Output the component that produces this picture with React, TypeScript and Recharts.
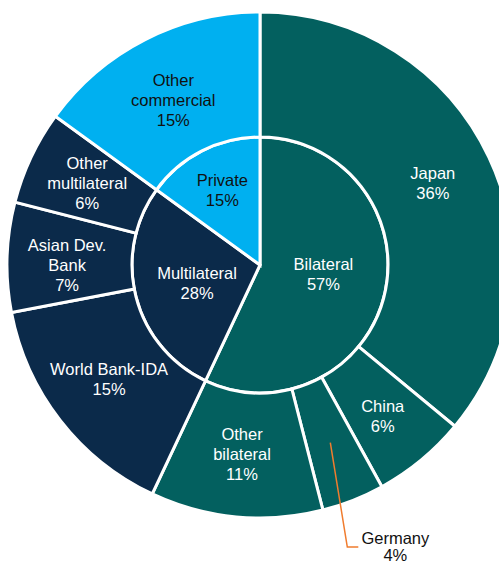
import { PieChart, Pie, Cell } from "recharts";

const groupNames = ["Bilateral", "Multilateral", "Private"];
const groupValues = [57, 28, 15];

const creditorNames = [
  "Japan",
  "China",
  "Germany",
  "Other bilateral",
  "World Bank-IDA",
  "Asian Dev. Bank",
  "Other multilateral",
  "Other commercial",
];
const creditorLabels = [
  ["Japan"],
  ["China"],
  ["Germany"],
  ["Other", "bilateral"],
  ["World Bank-IDA"],
  ["Asian Dev.", "Bank"],
  ["Other", "multilateral"],
  ["Other", "commercial"],
];
const creditorValues = [36, 6, 4, 11, 15, 7, 6, 15];
const creditorGroup = [0, 0, 0, 0, 1, 1, 1, 2];

const groupColors = ["#03605F", "#0B2A4A", "#00B0F0"];
const groupText = ["#ffffff", "#ffffff", "#111111"];

const innerData = groupNames.map((name, i) => ({ name, value: groupValues[i] }));
const outerData = creditorNames.map((name, i) => ({
  name,
  value: creditorValues[i],
  lines: creditorLabels[i],
  group: creditorGroup[i],
}));

const RAD = Math.PI / 180;
const FONT = "'Liberation Sans', Arial, sans-serif";
const FS = 16.5;

// small hand nudges of label placement [dx, dy]
const innerNudge: Record<string, [number, number]> = {
  Bilateral: [0, -5],
  Multilateral: [0, 2],
  Private: [0, -1],
};
const outerNudge: Record<string, [number, number]> = {
  China: [1, 5],
  "World Bank-IDA": [0, -2],
  "Asian Dev. Bank": [-2, 7],
  "Other commercial": [0, 6],
};

function innerLabel(props: any) {
  const { cx, cy, midAngle, index } = props;
  const name = groupNames[index];
  const [nx, ny] = innerNudge[name] || [0, 0];
  const r = index === 2 ? 83 : 65;
  const x = cx + r * Math.cos(-midAngle * RAD) + nx;
  const y = cy + r * Math.sin(-midAngle * RAD) + ny;
  return (
    <text x={x} y={y} textAnchor="middle" fontFamily={FONT} fontSize={FS} fill={groupText[index]}>
      <tspan x={x} dy={-4}>{name}</tspan>
      <tspan x={x} dy={20}>{groupValues[index]}%</tspan>
    </text>
  );
}

function outerLabel(props: any) {
  const { cx, cy, midAngle, index } = props;
  const d = outerData[index];
  const r = 191;
  const x0 = cx + r * Math.cos(-midAngle * RAD);
  const y0c = cy + r * Math.sin(-midAngle * RAD);
  if (d.name === "Germany") {
    const ex = x0 + 17;
    const ey = cy + 282;
    return (
      <g>
        <polyline
          points={`${x0},${y0c} ${ex},${ey} ${ex + 11},${ey}`}
          fill="none"
          stroke="#F07C2E"
          strokeWidth={1.5}
        />
        <text x={ex + 48} y={ey} textAnchor="middle" fontFamily={FONT} fontSize={FS} fill="#111111">
          <tspan x={ex + 48} dy={-3}>{d.name}</tspan>
          <tspan x={ex + 48} dy={17}>{d.value}%</tspan>
        </text>
      </g>
    );
  }
  const [nx, ny] = outerNudge[d.name] || [0, 0];
  const x = x0 + nx;
  const y = y0c + ny;
  const lines = [...d.lines, `${d.value}%`];
  const lh = 20;
  const y0 = y - ((lines.length - 1) * lh) / 2 + 5;
  return (
    <text x={x} y={y0} textAnchor="middle" fontFamily={FONT} fontSize={FS} fill={groupText[d.group]}>
      {lines.map((t, i) => (
        <tspan key={i} x={x} dy={i === 0 ? 0 : lh}>
          {t}
        </tspan>
      ))}
    </text>
  );
}

export default function App() {
  return (
    <div style={{ position: "absolute", left: 0, top: 0, width: 499, height: 564, background: "#fff" }}>
      <PieChart width={499} height={564} margin={{ top: 0, right: 0, bottom: 0, left: 0 }}>
        <Pie
          data={innerData}
          dataKey="value"
          cx={260}
          cy={265}
          innerRadius={0}
          outerRadius={128}
          startAngle={90}
          endAngle={-270}
          stroke="#ffffff"
          strokeWidth={3}
          label={innerLabel}
          labelLine={false}
          isAnimationActive={false}
        >
          {innerData.map((d, i) => (
            <Cell key={d.name} fill={groupColors[i]} />
          ))}
        </Pie>
        <Pie
          data={outerData}
          dataKey="value"
          cx={260}
          cy={265}
          innerRadius={128}
          outerRadius={253}
          startAngle={90}
          endAngle={-270}
          stroke="#ffffff"
          strokeWidth={3}
          label={outerLabel}
          labelLine={false}
          isAnimationActive={false}
        >
          {outerData.map((d) => (
            <Cell key={d.name} fill={groupColors[d.group]} />
          ))}
        </Pie>
      </PieChart>
    </div>
  );
}
